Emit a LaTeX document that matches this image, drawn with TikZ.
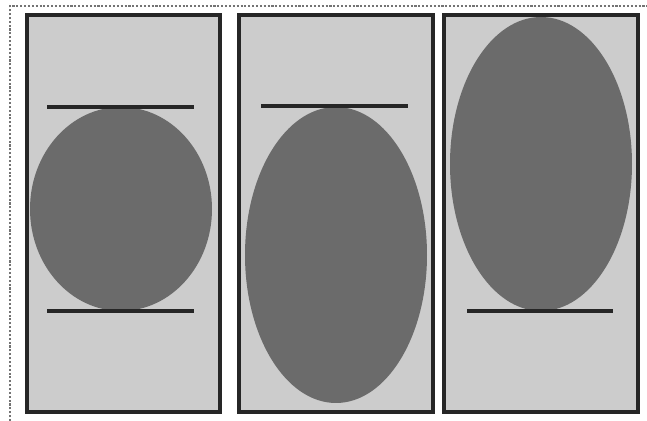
\documentclass[tikz,border=0pt]{standalone}
\usepackage{tikz}
\usetikzlibrary{calc}

\begin{document}
\begin{tikzpicture}
\begin{scope}[x=0.02cm, y=-0.02cm]
\useasboundingbox (0,0) rectangle (647,421);

\draw[densely dotted, black!55, line width=1.2pt] (10,421)--(10,6)--(647,6);

\filldraw[fill=black!20, draw=black!85, line width=2pt] (27,15) rectangle (220,412);
\filldraw[fill=black!20, draw=black!85, line width=2pt] (239,15) rectangle (433,412);
\filldraw[fill=black!20, draw=black!85, line width=2pt] (444,15) rectangle (638,412);

\fill[black!58] (121,209) ellipse (91 and 102);
\fill[black!58] (336,255) ellipse (91 and 148);
\fill[black!58] (541,164) ellipse (91 and 147);

\draw[black!85, line width=2pt] (47,107)--(194,107);
\draw[black!85, line width=2pt] (47,311)--(194,311);
\draw[black!85, line width=2pt] (261,106)--(408,106);
\draw[black!85, line width=2pt] (467,311)--(613,311);
\end{scope}
\end{tikzpicture}
\end{document}
